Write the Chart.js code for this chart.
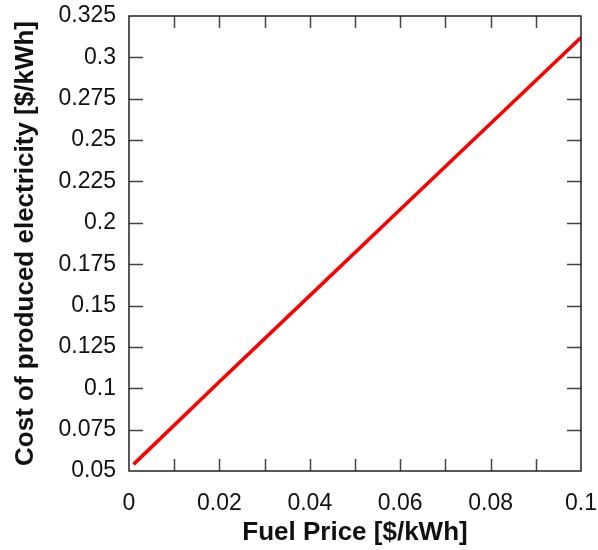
<!DOCTYPE html>
<html>
<head>
<meta charset="utf-8">
<script src="https://cdn.jsdelivr.net/npm/chart.js@4/dist/chart.umd.min.js"></script>
<style>
html,body{margin:0;padding:0;background:#fff;}
#wrap{width:598px;height:550px;position:relative;}
</style>
</head>
<body>
<div id="wrap"><canvas id="c" width="598" height="550"></canvas></div>
<script>
const fuelPrice = [0.001, 0.02, 0.04, 0.06, 0.08, 0.1];
const electricityCost = [0.054, 0.104, 0.156, 0.208, 0.260, 0.312];
const xTickLabels = ['0', '0.02', '0.04', '0.06', '0.08', '0.1'];
const yTickLabels = ['0.05', '0.075', '0.1', '0.125', '0.15', '0.175', '0.2', '0.225', '0.25', '0.275', '0.3', '0.325'];
const xTitle = 'Fuel Price [$/kWh]';
const yTitle = 'Cost of produced electricity [$/kWh]';

const FONT = '"Liberation Sans", Arial, Helvetica, sans-serif';

const framePlugin = {
  id: 'frame',
  afterDraw(chart) {
    const ctx = chart.ctx;
    const a = chart.chartArea;
    const xs = chart.scales.x, ys = chart.scales.y;
    ctx.save();
    ctx.strokeStyle = '#444';
    ctx.lineWidth = 1.5;
    ctx.beginPath();
    xs.ticks.forEach(t => {
      const px = Math.round(xs.getPixelForValue(t.value)) + 0.5;
      if (px <= a.left + 2 || px >= a.right - 2) return;
      ctx.moveTo(px, a.bottom); ctx.lineTo(px, a.bottom - 12);
      ctx.moveTo(px, a.top); ctx.lineTo(px, a.top + 12);
    });
    ys.ticks.forEach(t => {
      const py = Math.round(ys.getPixelForValue(t.value)) + 0.5;
      if (py <= a.top + 2 || py >= a.bottom - 2) return;
      ctx.moveTo(a.left, py); ctx.lineTo(a.left + 14, py);
      ctx.moveTo(a.right, py); ctx.lineTo(a.right - 14, py);
    });
    ctx.stroke();
    ctx.strokeStyle = '#222';
    ctx.lineWidth = 1.5;
    ctx.strokeRect(a.left, a.top, a.right - a.left, a.bottom - a.top);
    ctx.restore();
  }
};

new Chart(document.getElementById('c'), {
  type: 'line',
  data: {
    datasets: [{
      data: fuelPrice.map((x, i) => ({x: x, y: electricityCost[i]})),
      borderColor: '#ff0000',
      borderWidth: 3.5,
      pointRadius: 0,
      fill: false,
      tension: 0
    }]
  },
  options: {
    responsive: false,
    animation: false,
    devicePixelRatio: 1,
    layout: {padding: {top: 16, right: 17, left: 0, bottom: 0}},
    plugins: {legend: {display: false}, tooltip: {enabled: false}},
    scales: {
      x: {
        type: 'linear',
        min: 0, max: 0.1,
        border: {display: false},
        grid: {display: false, drawTicks: false},
        ticks: {
          stepSize: 0.01,
          autoSkip: false,
          maxRotation: 0,
          padding: 19,
          color: '#111',
          font: {family: FONT, size: 23},
          callback: (v) => {
            const k = Math.round(v / 0.01);
            return k % 2 === 0 ? xTickLabels[k / 2] : '';
          }
        },
        title: {
          display: true, text: xTitle, color: '#111',
          font: {family: FONT, size: 26, weight: 'bold'},
          padding: {top: 0, bottom: 2}
        },
        afterFit: (s) => { s.height = 79; s.paddingLeft = 0; s.paddingRight = 0; }
      },
      y: {
        type: 'linear',
        min: 0.05, max: 0.325,
        border: {display: false},
        grid: {display: false, drawTicks: false},
        ticks: {
          stepSize: 0.025,
          autoSkip: false,
          padding: 13,
          color: '#111',
          font: {family: FONT, size: 23},
          callback: (v) => yTickLabels[Math.round((v - 0.05) / 0.025)]
        },
        title: {
          display: true, text: yTitle, color: '#111',
          font: {family: FONT, size: 26, weight: 'bold'},
          padding: {top: 10, bottom: 0}
        },
        afterFit: (s) => { s.width = 129; s.paddingTop = 0; s.paddingBottom = 0; }
      }
    }
  },
  plugins: [framePlugin]
});
</script>
</body>
</html>
